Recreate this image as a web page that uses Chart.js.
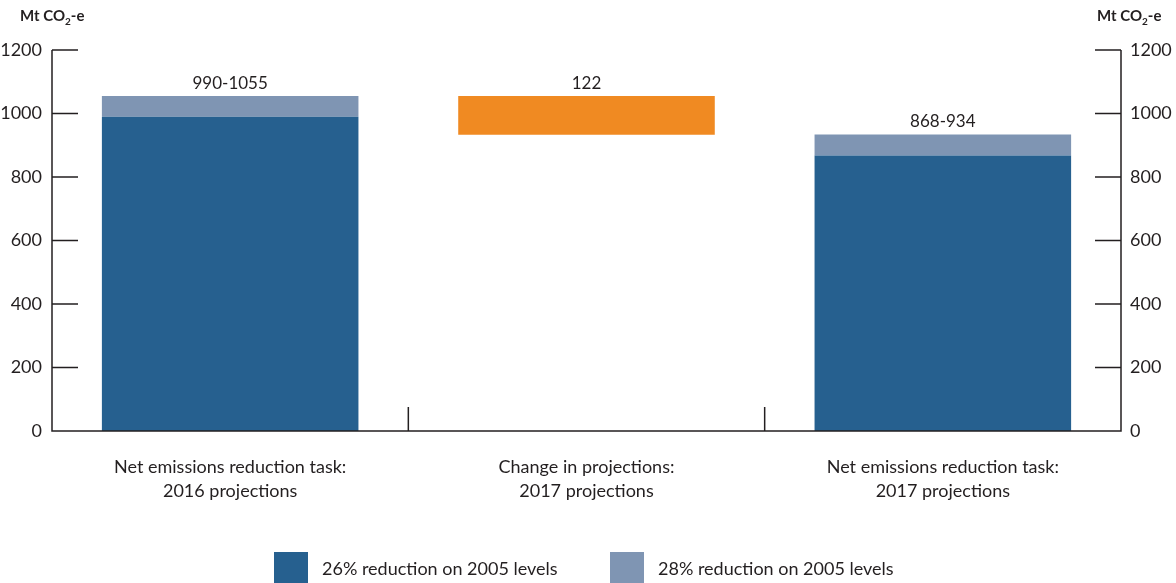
<!DOCTYPE html>
<html>
<head>
<meta charset="utf-8">
<script src="https://cdn.jsdelivr.net/npm/chart.js@4"></script>
<style>
  html, body { margin: 0; padding: 0; background: #fff; overflow: hidden; }
  #wrap { position: relative; width: 1176px; height: 583px; }
  .item { position: absolute; top: 552px; height: 31px; display: flex; align-items: center;
          font: 18px Lato, sans-serif; color: #231f20; white-space: nowrap; }
  .item span { display: inline-block; width: 34px; height: 31px; margin-right: 14px; }
</style>
</head>
<body>
<div id="wrap">
  <canvas id="grafico" width="1176" height="583"></canvas>
  <div class="item" style="left:274px"><span style="background:#26608f"></span>26% reduction on 2005 levels</div>
  <div class="item" style="left:610px"><span style="background:#7f95b3"></span>28% reduction on 2005 levels</div>
</div>
<script>
const categories = [
    ['Net emissions reduction task:', '2016 projections'],
    ['Change in projections:', '2017 projections'],
    ['Net emissions reduction task:', '2017 projections']
];
const reduction26 = [990, null, 868];
const reduction28 = [1055, null, 934];
const changeTop = [null, 1055, null];
const changeSize = [null, 122, null];
const valueLabels = ['990-1055', '122', '868-934'];
const yTicks = [0, 200, 400, 600, 800, 1000, 1200];

const textColor = '#231f20';
const font = 'Lato';

// axis lines, inner tick marks, separators, value labels and unit titles
const extras = {
    id: 'extras',
    afterDraw(chart) {
        const { ctx, chartArea: a, scales: { x, y } } = chart;
        ctx.save();
        ctx.strokeStyle = textColor;
        ctx.lineWidth = 1.5;
        ctx.beginPath();
        ctx.moveTo(a.left, y.getPixelForValue(1200));
        ctx.lineTo(a.left, a.bottom);
        ctx.lineTo(a.right, a.bottom);
        ctx.lineTo(a.right, y.getPixelForValue(1200));
        yTicks.forEach(v => {
            const py = y.getPixelForValue(v);
            ctx.moveTo(a.left, py); ctx.lineTo(a.left + 26, py);
            ctx.moveTo(a.right - 26, py); ctx.lineTo(a.right, py);
        });
        for (let i = 1; i < categories.length; i++) {
            const px = (x.getPixelForValue(i - 1) + x.getPixelForValue(i)) / 2;
            ctx.moveTo(px, a.bottom); ctx.lineTo(px, a.bottom - 24);
        }
        ctx.stroke();

        ctx.fillStyle = textColor;
        ctx.font = '17px ' + font;
        ctx.textAlign = 'center';
        ctx.textBaseline = 'alphabetic';
        valueLabels.forEach((txt, i) => {
            const top = reduction28[i] != null ? reduction28[i] : changeTop[i];
            ctx.fillText(txt, x.getPixelForValue(i), y.getPixelForValue(top) - 7);
        });

        // "Mt CO2-e" with subscript 2
        const unit = (left) => {
            ctx.textAlign = 'left';
            ctx.font = 'bold 15px ' + font;
            let w = ctx.measureText('Mt CO').width;
            ctx.fillText('Mt CO', left, 21);
            ctx.font = 'bold 10px ' + font;
            ctx.fillText('2', left + w, 25);
            w += ctx.measureText('2').width;
            ctx.font = 'bold 15px ' + font;
            ctx.fillText('-e', left + w, 21);
        };
        unit(20);
        unit(1097);
        ctx.restore();
    }
};

const plain = v => String(v);

new Chart(document.getElementById('grafico'), {
    type: 'bar',
    data: {
        labels: categories,
        datasets: [{
            label: '26% reduction on 2005 levels',
            data: reduction26.map(v => v == null ? null : [0, v]),
            backgroundColor: '#26608f',
            yAxisID: 'y'
        }, {
            label: '28% reduction on 2005 levels',
            data: reduction28.map((v, i) => v == null ? null : [reduction26[i], v]),
            backgroundColor: '#7f95b3',
            yAxisID: 'y'
        }, {
            label: 'Change in projections',
            data: changeTop.map((v, i) => v == null ? null : [v - changeSize[i], v]),
            backgroundColor: '#f08a22',
            yAxisID: 'y'
        }]
    },
    options: {
        responsive: false,
        animation: false,
        categoryPercentage: 1,
        barPercentage: 0.72,
        layout: { padding: { top: 50, bottom: 72, left: 0, right: 0 } },
        plugins: {
            legend: { display: false },
            tooltip: { enabled: false }
        },
        scales: {
            x: {
                stacked: true,
                grid: { display: false, drawTicks: false },
                border: { display: false },
                afterFit: s => { s.height = 80; },
                ticks: {
                    color: textColor,
                    font: { family: font, size: 18, lineHeight: 1.35 },
                    padding: 24,
                    maxRotation: 0,
                    autoSkip: false
                }
            },
            y: {
                stacked: false,
                position: 'left',
                min: 0,
                max: 1200,
                grid: { display: false, drawTicks: false },
                border: { display: false },
                afterFit: s => { s.width = 52; },
                afterBuildTicks: s => { s.ticks = yTicks.map(v => ({ value: v })); },
                ticks: { color: textColor, font: { family: font, size: 18 }, padding: 10, callback: plain }
            },
            y2: {
                position: 'right',
                min: 0,
                max: 1200,
                grid: { display: false, drawTicks: false },
                border: { display: false },
                afterFit: s => { s.width = 55; },
                afterBuildTicks: s => { s.ticks = yTicks.map(v => ({ value: v })); },
                ticks: { color: textColor, font: { family: font, size: 18 }, padding: 9, callback: plain }
            }
        }
    },
    plugins: [extras]
});
</script>
</body>
</html>
